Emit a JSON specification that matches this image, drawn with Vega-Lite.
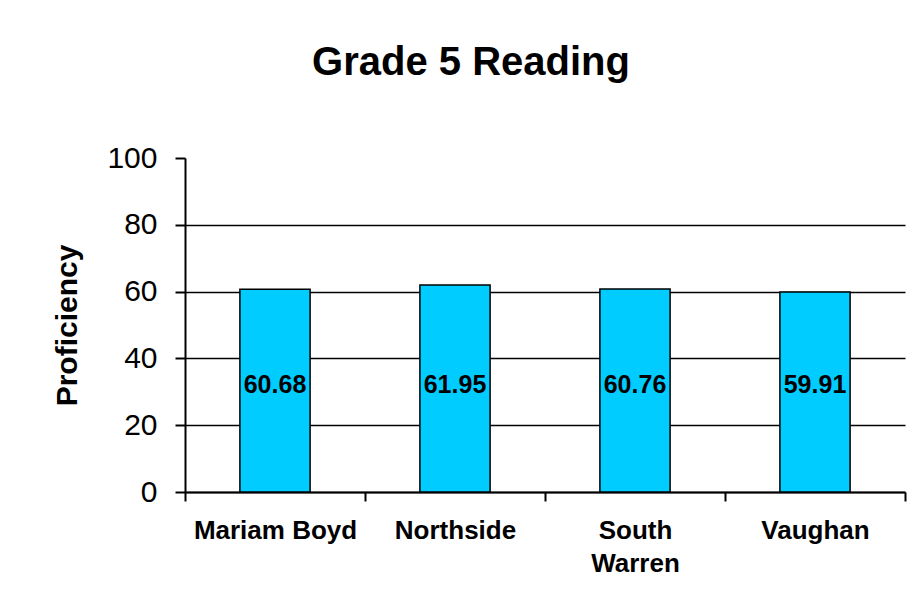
{
  "$schema": "https://vega.github.io/schema/vega-lite/v6.json",
  "autosize": {"type": "none"},
  "width": 720,
  "height": 334,
  "padding": {"left": 185, "top": 158, "right": 17, "bottom": 122},
  "background": "white",
  "config": {
    "font": "Liberation Sans",
    "view": {"stroke": null}
  },
  "title": {
    "text": "Grade 5 Reading",
    "fontSize": 40,
    "fontWeight": "bold",
    "color": "black",
    "anchor": "middle",
    "dx": -74,
    "offset": 60
  },
  "data": {
    "values": [
      {"school": "Mariam Boyd", "proficiency": 60.68},
      {"school": "Northside", "proficiency": 61.95},
      {"school": "South Warren", "proficiency": 60.76},
      {"school": "Vaughan", "proficiency": 59.91}
    ]
  },
  "encoding": {
    "x": {
      "field": "school",
      "type": "nominal",
      "sort": null,
      "scale": {"paddingInner": 0, "paddingOuter": 0},
      "axis": {
        "title": null,
        "labelAngle": 0,
        "tickBand": "extent",
        "tickSize": 9,
        "tickColor": "black",
        "tickWidth": 2,
        "domainColor": "black",
        "domainWidth": 2,
        "labelFontSize": 26,
        "labelFontWeight": "bold",
        "labelColor": "black",
        "labelPadding": 16,
        "labelLimit": 400,
        "labelLineHeight": 33,
        "labelExpr": "datum.value === 'South Warren' ? ['South', 'Warren'] : datum.value"
      }
    }
  },
  "layer": [
    {
      "mark": {"type": "bar", "color": "#00CCFF", "stroke": "black", "strokeWidth": 1.5, "width": {"band": 0.39}},
      "encoding": {
        "y": {
          "field": "proficiency",
          "type": "quantitative",
          "scale": {"domain": [0, 100], "nice": false},
          "axis": {
            "title": "Proficiency",
            "titleFontSize": 30,
            "titleFontWeight": "bold",
            "titleColor": "black",
            "titlePadding": 24,
            "values": [0, 20, 40, 60, 80, 100],
            "grid": true,
            "gridColor": "black",
            "gridWidth": 1.5,
            "gridOpacity": {"condition": {"test": "datum.value === 100", "value": 0}, "value": 1},
            "domainColor": "black",
            "domainWidth": 2,
            "tickColor": "black",
            "tickWidth": 2,
            "tickSize": 10,
            "labelFontSize": 30,
            "labelColor": "black",
            "labelPadding": 18
          }
        }
      }
    },
    {
      "mark": {"type": "text", "fontSize": 25, "fontWeight": "bold", "color": "black", "baseline": "middle"},
      "encoding": {
        "y": {"datum": 32, "type": "quantitative"},
        "text": {"field": "proficiency", "type": "quantitative", "format": ".2f"}
      }
    }
  ]
}
